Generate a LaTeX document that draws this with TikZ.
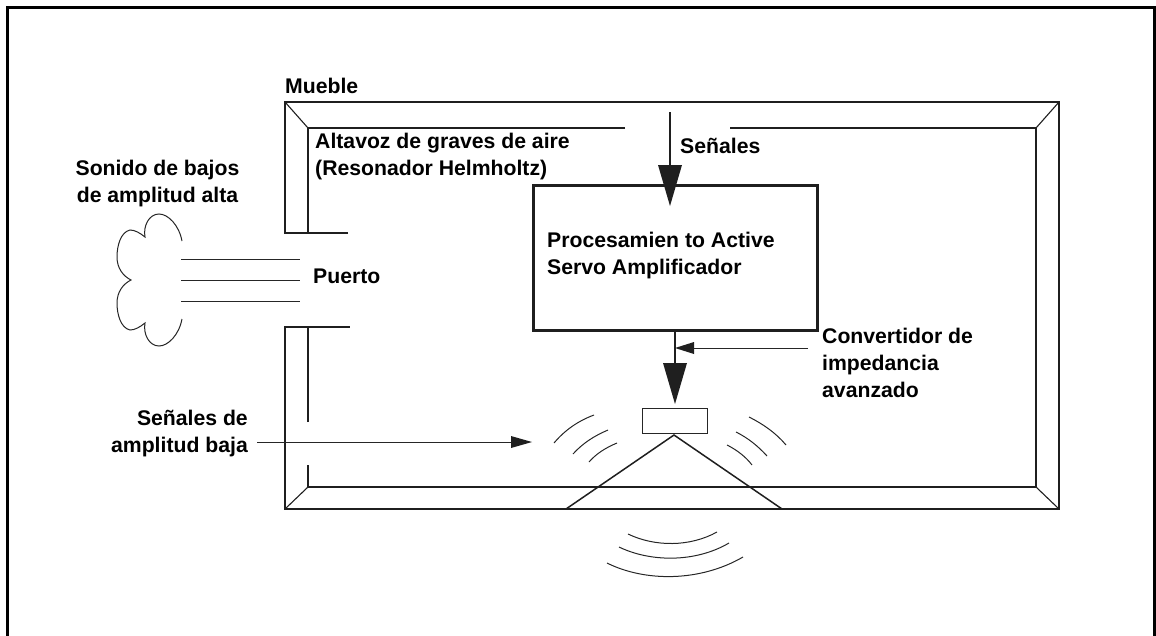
\documentclass[tikz,border=0pt]{standalone}
\usepackage{fontspec}
\setmainfont{Liberation Sans}
\begin{document}
\begin{tikzpicture}[x=1pt,y=-1pt,line join=miter,
  thick3/.style={line width=2.6pt,draw=black!88},
  frameline/.style={line width=1.7pt,draw=black!88},
  innerline/.style={line width=1.1pt,draw=black!88},
  thinline/.style={line width=1pt,draw=black!85},
  label/.style={font=\fontsize{21.2}{27}\selectfont\bfseries,align=left,inner sep=0pt,anchor=west},
  bighead/.style={fill=black!88,draw=none},
  procbox/.style={draw=black!88,line width=2.6pt,minimum width=284pt,minimum height=145pt,inner sep=0pt,anchor=north west},
  drvbox/.style={draw=black!85,line width=1.1pt,minimum width=65pt,minimum height=25pt,inner sep=0pt,anchor=north west}]
\useasboundingbox (0,0) rectangle (1156,635);
% outer border
\draw[line width=3pt,black] (7.5,640) -- (7.5,7.5) -- (1154.5,7.5) -- (1154.5,640);
% cabinet
\draw[frameline] (348,233) -- (285,233) -- (285,102) -- (1059,102) -- (1059,509) -- (285,509) -- (285,327) -- (350,327);
\draw[innerline] (625,128) -- (308,128) -- (308,233);
\draw[innerline] (730,128) -- (1036,128) -- (1036,487) -- (308,487) -- (308,465);
\draw[innerline] (308,422) -- (308,327);
\draw[innerline] (285,102) -- (308,128) (1059,102) -- (1036,128) (1059,509) -- (1036,487) (285,509) -- (308,487);
% port
\draw[thinline] (181,259) -- (300,259) (181,280) -- (300,280) (181,301) -- (300,301);
\draw[thinline] (182,241) .. controls (179,225) and (168,214) .. (159,214)
  .. controls (149,214) and (143,226) .. (145,237)
  .. controls (140,233) and (135,230) .. (130,230)
  .. controls (121,232) and (117,245) .. (117,257)
  .. controls (117,268) and (123,276) .. (131,280)
  .. controls (123,284) and (117,292) .. (117,303)
  .. controls (117,315) and (121,328) .. (130,330)
  .. controls (135,330) and (140,327) .. (145,323)
  .. controls (143,334) and (149,346) .. (159,346)
  .. controls (168,346) and (179,335) .. (182,319);
% process box and connectors
\node[procbox] (proc) at (532,184) {};
\node[drvbox] (drv) at (642,408) {};
\coordinate (sigin) at (670,112);
\coordinate (sigtip) at (670,206);
\coordinate (outtip) at (675,404);
\coordinate (imptail) at (808,348);
\coordinate (imptip) at (675,348);
\coordinate (lowtail) at (257,442);
\coordinate (lowtip) at (532,442);
\draw[thick3] (sigin) -- (670,170);
\fill[bighead] (658,165) -- (682,165) -- (sigtip) -- cycle;
\draw[thick3] (675,329) -- (675,368);
\fill[bighead] (663,363) -- (687,363) -- (outtip) -- cycle;
\draw[thinline] (imptail) -- (690,348);
\fill[bighead] (694,342) -- (694,354) -- (imptip) -- cycle;
\draw[thinline] (lowtail) -- (515,442);
\fill[bighead] (511,436) -- (511,448) -- (lowtip) -- cycle;
% cone
\draw[line width=1.5pt,draw=black!88] (566,509) -- (674,435) -- (782,509);
% waves
\draw[thinline] (554,443) .. controls (565,430) and (578,421) .. (594,415);
\draw[thinline] (573,454) .. controls (583,443) and (594,436) .. (608,430);
\draw[thinline] (589,462) .. controls (596,454) and (605,448) .. (617,443);
\draw[thinline] (786,445) .. controls (776,433) and (763,424) .. (749,417);
\draw[thinline] (767,456) .. controls (758,446) and (748,438) .. (736,432);
\draw[thinline] (752,465) .. controls (746,457) and (737,450) .. (727,445);
\draw[thinline] (628,534) .. controls (655,547) and (690,547) .. (717,532);
\draw[thinline] (619,547) .. controls (650,562) and (695,563) .. (729,543);
\draw[thinline] (607,563) .. controls (645,582) and (700,582) .. (743,557);
% labels
\node[label] (mueble) at (285,86) {Mueble};
\node[label] (altavoz) at (315,156.5) {Altavoz de graves de aire\\(Resonador Helmholtz)};
\node[label] (senales) at (680,146) {Señales};
\node[label,align=center,anchor=center] (sonido) at (157.5,184) {Sonido de bajos\\de amplitud alta};
\node[label] (puerto) at (313,276) {Puerto};
\node[label] (procl) at (547,256) {Procesamien to Active\\Servo Amplificador};
\node[label] (conv) at (822,362.5) {Convertidor de\\impedancia\\avanzado};
\node[label,align=right,anchor=east] (bajas) at (248,434) {Señales de\\amplitud baja};
\end{tikzpicture}
\end{document}
